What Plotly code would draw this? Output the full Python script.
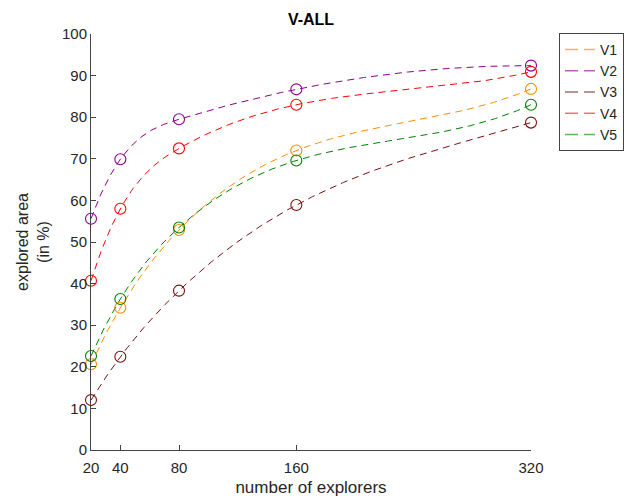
import numpy as np
import plotly.graph_objects as go

explorers = [20, 40, 80, 160, 320]
V1 = [20.6, 34.2, 52.9, 72.0, 86.8]
V2 = [55.6, 69.9, 79.5, 86.7, 92.4]
V3 = [12.0, 22.4, 38.3, 58.9, 78.7]
V4 = [40.7, 58.0, 72.5, 83.0, 90.9]
V5 = [22.6, 36.3, 53.5, 69.6, 83.0]
series_names = ["V1", "V2", "V3", "V4", "V5"]
series_values = [V1, V2, V3, V4, V5]
colors = ["#FF8C00", "#8B008B", "#7A0F0F", "#FF0000", "#008000"]
legend_colors = ["#FFB060", "#B464B4", "#A87070", "#FF7070", "#64B064"]


def not_a_knot_spline(x, y, xs):
    x = np.asarray(x, float)
    y = np.asarray(y, float)
    n = len(x)
    m = n - 1
    A = np.zeros((4 * m, 4 * m))
    b = np.zeros(4 * m)
    r = 0
    for i in range(m):
        h = x[i + 1] - x[i]
        A[r, 4 * i] = 1
        b[r] = y[i]
        r += 1
        A[r, 4 * i:4 * i + 4] = [1, h, h ** 2, h ** 3]
        b[r] = y[i + 1]
        r += 1
    for i in range(m - 1):
        h = x[i + 1] - x[i]
        A[r, 4 * i:4 * i + 4] = [0, 1, 2 * h, 3 * h ** 2]
        A[r, 4 * (i + 1) + 1] = -1
        r += 1
        A[r, 4 * i:4 * i + 4] = [0, 0, 2, 6 * h]
        A[r, 4 * (i + 1) + 2] = -2
        r += 1
    A[r, 3] = 1
    A[r, 7] = -1
    r += 1
    A[r, 4 * (m - 2) + 3] = 1
    A[r, 4 * (m - 1) + 3] = -1
    coef = np.linalg.solve(A, b)
    ys = np.empty_like(xs)
    for k, xv in enumerate(xs):
        i = min(max(np.searchsorted(x, xv, side="right") - 1, 0), m - 1)
        t = xv - x[i]
        a0, a1, a2, a3 = coef[4 * i:4 * i + 4]
        ys[k] = a0 + a1 * t + a2 * t ** 2 + a3 * t ** 3
    return ys


xs = np.linspace(explorers[0], explorers[-1], 400)
font = "Liberation Sans, Arial, sans-serif"

fig = go.Figure()
for name, vals, col in zip(series_names, series_values, colors):
    fig.add_trace(go.Scatter(
        x=xs, y=not_a_knot_spline(explorers, vals, xs), mode="lines", showlegend=False,
        line=dict(color=col, width=1, dash="7px,5px"),
    ))
for name, vals, col in zip(series_names, series_values, colors):
    fig.add_trace(go.Scatter(
        x=explorers, y=vals, mode="markers", showlegend=False,
        marker=dict(symbol="circle-open", size=11, color=col, line=dict(width=1.1, color=col)),
        cliponaxis=False,
    ))
# legend entries (lighter rendering of line samples as in the reference)
for name, lc in zip(series_names, legend_colors):
    fig.add_trace(go.Scatter(
        x=[None], y=[None], mode="lines", name=name,
        line=dict(color=lc, width=1.5, dash="13px,6px"),
    ))

fig.update_layout(
    width=642, height=504,
    margin=dict(l=91, r=111, t=34, b=54),
    paper_bgcolor="white", plot_bgcolor="white",
    font=dict(family=font, size=15, color="#262626"),
    title=dict(text="<b>V-ALL</b>", x=(91 + 531) / 2 / 642, xanchor="center",
               y=1 - 19 / 504, yanchor="middle", font=dict(size=16, color="#000")),
    legend=dict(x=1.0636, y=1.0024, xanchor="left", yanchor="top",
                bordercolor="#444", borderwidth=1, bgcolor="white",
                font=dict(size=14, color="#262626"), itemwidth=30,
                tracegroupgap=0),
    showlegend=True,
)
fig.update_xaxes(
    range=[20, 320], tickvals=explorers, ticktext=[str(v) for v in explorers],
    showline=True, linecolor="#444", linewidth=1, ticks="inside", ticklen=5,
    tickcolor="#444", showgrid=False, zeroline=False, ticklabelstandoff=4,
    automargin=False,
    title=dict(text="number of explorers", standoff=6, font=dict(size=17)),
    tickfont=dict(size=15),
)
fig.update_yaxes(
    range=[0, 100], dtick=10, tick0=0,
    showline=True, linecolor="#444", linewidth=1, ticks="inside", ticklen=5,
    tickcolor="#444", showgrid=False, zeroline=False, automargin=False,
    title=dict(text="explored area<br>(in %)", standoff=8, font=dict(size=16)),
    tickfont=dict(size=15),
)

fig.write_html("out.html")
